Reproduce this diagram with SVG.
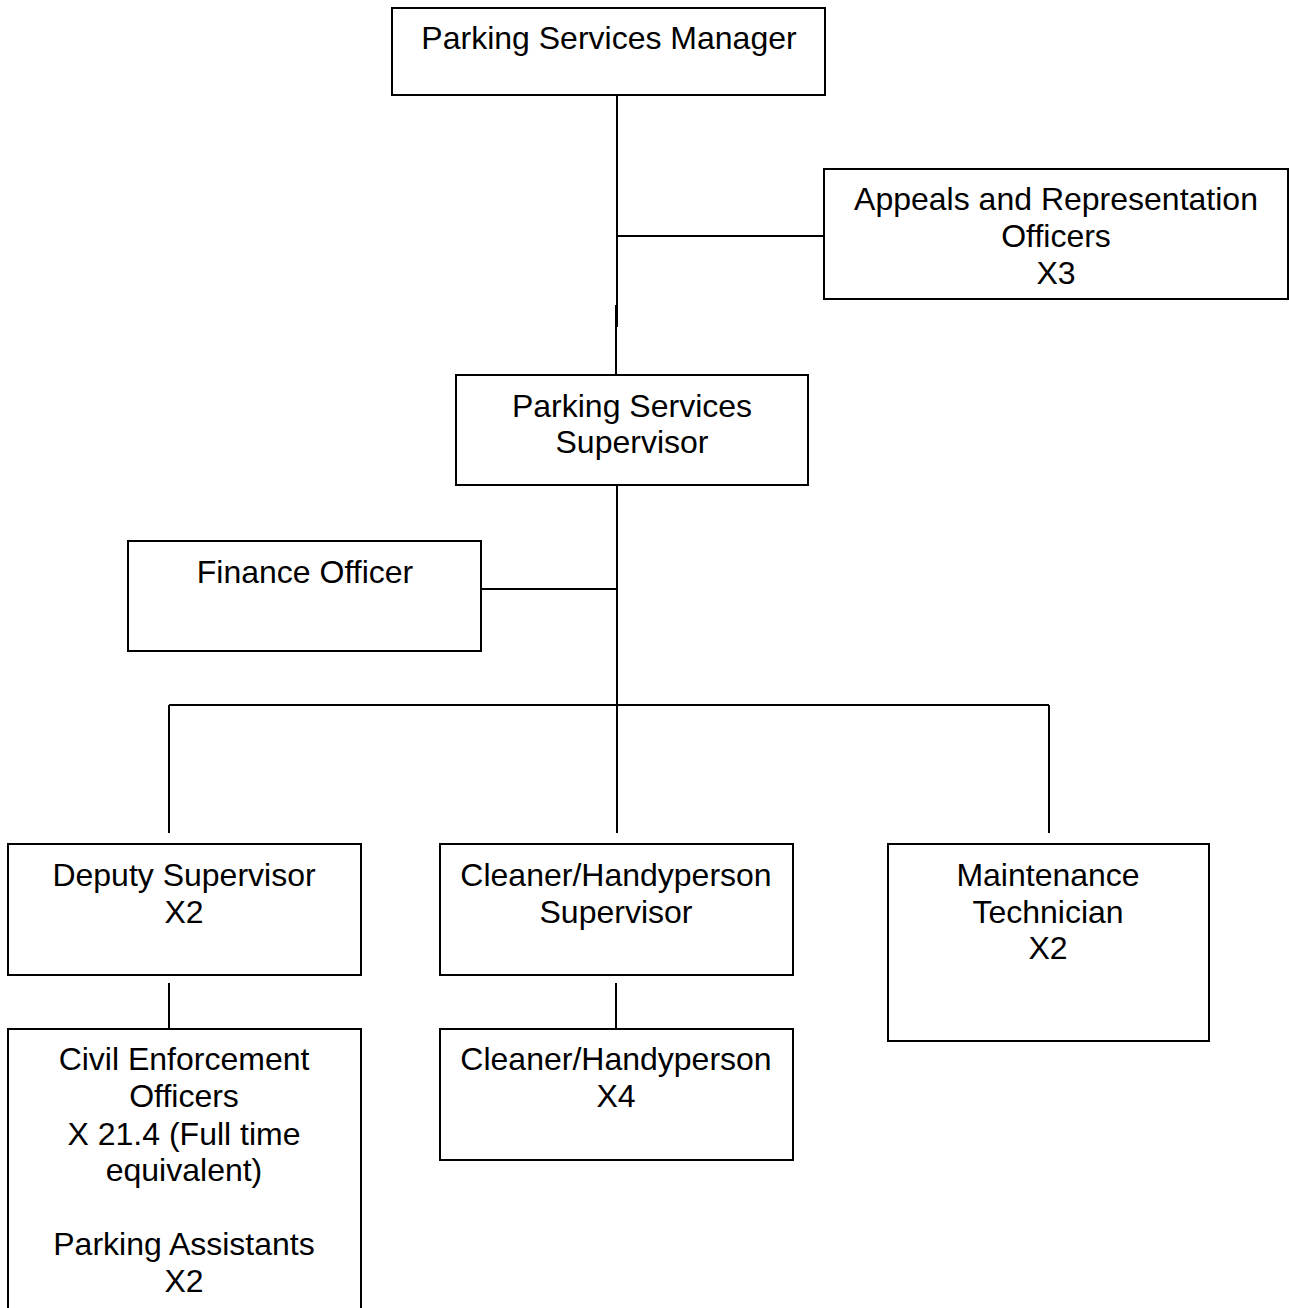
<svg xmlns="http://www.w3.org/2000/svg" width="1289" height="1308" viewBox="0 0 1289 1308">
<style>
.box{fill:#fff;stroke:#000;stroke-width:2}
.ln{stroke:#000;stroke-width:2;fill:none}
text{font-family:"Liberation Sans",Arial,sans-serif;font-size:32px;fill:#000;text-anchor:middle}
</style>
<rect width="1289" height="1308" fill="#fff"/>
<g id="connectors">
<line class="ln" x1="617" y1="95" x2="617" y2="327"/>
<line class="ln" x1="616" y1="305" x2="616" y2="375"/>
<line class="ln" x1="617" y1="236" x2="824" y2="236"/>
<line class="ln" x1="617" y1="485" x2="617" y2="745"/>
<line class="ln" x1="481" y1="589" x2="617" y2="589"/>
<line class="ln" x1="169" y1="705" x2="1049" y2="705"/>
<line class="ln" x1="169" y1="705" x2="169" y2="833"/>
<line class="ln" x1="617" y1="705" x2="617" y2="833"/>
<line class="ln" x1="1049" y1="705" x2="1049" y2="833"/>
<line class="ln" x1="169" y1="983" x2="169" y2="1029"/>
<line class="ln" x1="616" y1="983" x2="616" y2="1029"/>
</g>
<g id="manager">
<rect class="box" x="392" y="8" width="433" height="87"/>
<text x="609" y="49">Parking Services Manager</text>
</g>
<g id="appeals">
<rect class="box" x="824" y="169" width="464" height="130"/>
<text x="1056" y="210">Appeals and Representation</text>
<text x="1056" y="247">Officers</text>
<text x="1056" y="284">X3</text>
</g>
<g id="supervisor">
<rect class="box" x="456" y="375" width="352" height="110"/>
<text x="632" y="417">Parking Services</text>
<text x="632" y="453">Supervisor</text>
</g>
<g id="finance">
<rect class="box" x="128" y="541" width="353" height="110"/>
<text x="305" y="583">Finance Officer</text>
</g>
<g id="deputy">
<rect class="box" x="8" y="844" width="353" height="131"/>
<text x="184" y="886">Deputy Supervisor</text>
<text x="184" y="923">X2</text>
</g>
<g id="cleaner-supervisor">
<rect class="box" x="440" y="844" width="353" height="131"/>
<text x="616" y="886">Cleaner/Handyperson</text>
<text x="616" y="923">Supervisor</text>
</g>
<g id="maintenance">
<rect class="box" x="888" y="844" width="321" height="197"/>
<text x="1048" y="886">Maintenance</text>
<text x="1048" y="923">Technician</text>
<text x="1048" y="959">X2</text>
</g>
<g id="civil">
<rect class="box" x="8" y="1029" width="353" height="300"/>
<text x="184" y="1070">Civil Enforcement</text>
<text x="184" y="1107">Officers</text>
<text x="184" y="1145">X 21.4 (Full time</text>
<text x="184" y="1181">equivalent)</text>
<text x="184" y="1255">Parking Assistants</text>
<text x="184" y="1292">X2</text>
</g>
<g id="cleaner">
<rect class="box" x="440" y="1029" width="353" height="131"/>
<text x="616" y="1070">Cleaner/Handyperson</text>
<text x="616" y="1107">X4</text>
</g>
</svg>
